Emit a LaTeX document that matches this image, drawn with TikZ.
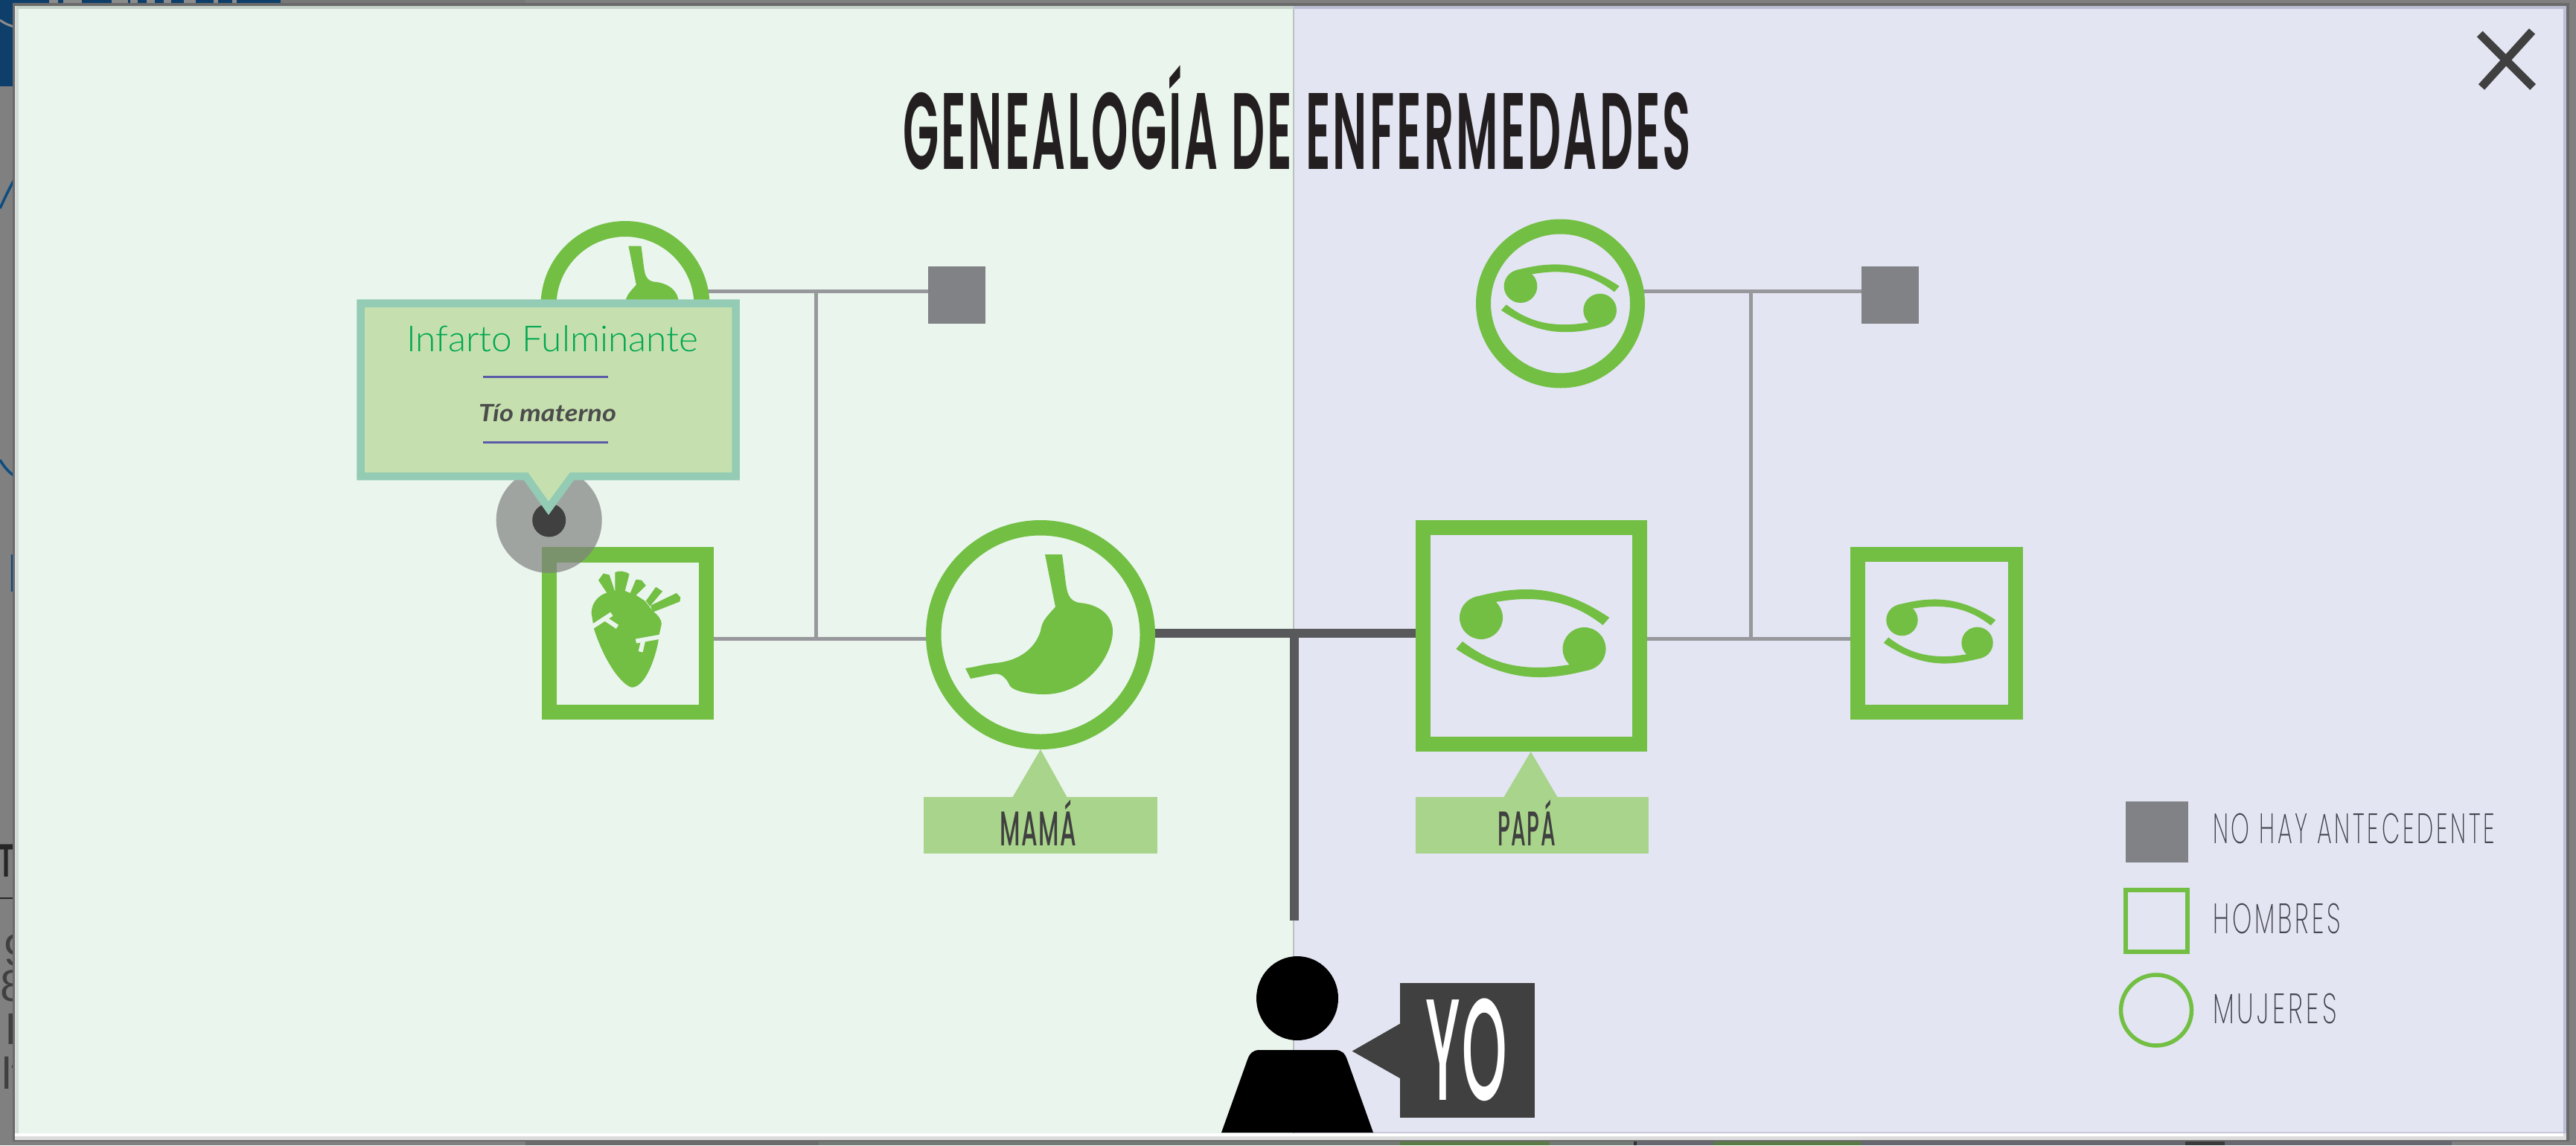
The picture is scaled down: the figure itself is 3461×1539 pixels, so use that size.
\documentclass[tikz,border=0pt]{standalone}
\usepackage{fontspec}
\usepackage{graphicx}
\usetikzlibrary{shapes.geometric}
\setmainfont{Lato}
\newfontfamily\fcond{Poppins SemiBold}[LetterSpace=5]
\newfontfamily\fmid{Poppins Medium}[LetterSpace=5]
\newfontfamily\fyo{Poppins Medium}[LetterSpace=4]
\newfontfamily\fthin{Poppins ExtraLight}[LetterSpace=12]
\newfontfamily\flight{Lato Light}
\newfontfamily\fback{Liberation Sans}
\newlength\pxu \setlength\pxu{0.01cm}
\newcommand{\fitw}[2]{\resizebox{#1\pxu}{\height}{#2}}
\newcommand{\crabhalf}{%
    \fill[leaf] (-69.25,-21) circle[radius=29];
    \fill[leaf] (-78.75,-48.5) .. controls (-50,-56) and (-30,-59) .. (-8.75,-59)
      .. controls (35,-59) and (72,-42) .. (103,-21) -- (94.25,-11)
      .. controls (63,-35) and (33,-46) .. (-8.75,-46)
      .. controls (-24,-46) and (-37,-44) .. (-50.25,-42) -- cycle;
}
\definecolor{backdrop}{HTML}{808080}
\definecolor{shadowc}{HTML}{6A6A6A}
\definecolor{navy}{HTML}{0E3F6A}
\definecolor{inkblue}{HTML}{0E4C80}
\definecolor{panelL}{HTML}{EAF5ED}
\definecolor{panelR}{HTML}{E3E5F2}
\definecolor{leaf}{HTML}{72BF44}
\definecolor{pale}{HTML}{A9D48B}
\definecolor{slate}{HTML}{808285}
\definecolor{thinline}{HTML}{97989C}
\definecolor{thick}{HTML}{58595B}
\definecolor{char}{HTML}{404040}
\definecolor{titleink}{HTML}{231F20}
\definecolor{popfill}{HTML}{C5E0AE}
\definecolor{popedge}{HTML}{93CBB4}
\definecolor{popgreen}{HTML}{00A651}
\definecolor{popline}{HTML}{5A5AA8}
\definecolor{legendink}{HTML}{45454F}
\definecolor{stripgreen}{HTML}{5A7A45}
\definecolor{stripmid}{HTML}{737A73}
\definecolor{stripdark}{HTML}{2F2F33}
\definecolor{strippurple}{HTML}{65666F}
\definecolor{stripblock}{HTML}{3A3A3A}
\definecolor{frameg}{HTML}{DCDCDC}
\definecolor{edgeL}{HTML}{CFDCD5}
\definecolor{topL}{HTML}{C5D3CA}
\definecolor{topR}{HTML}{BBBED2}
\definecolor{baseR}{HTML}{C8C8D8}
\definecolor{divider}{HTML}{B8C2C0}
\pgfdeclarelayer{bg}\pgfdeclarelayer{conn}\pgfsetlayers{bg,conn,main}
\tikzset{
  x=0.01cm,y=-0.01cm,
  txt/.style={inner sep=0pt,outer sep=0pt,anchor=base west},
  person box/.style={draw=leaf,line width=20\pxu,rectangle,inner sep=0pt,outer sep=0pt},
  person disc/.style={draw=leaf,circle,inner sep=0pt,outer sep=0pt},
  none box/.style={fill=slate,rectangle,inner sep=0pt,outer sep=0pt,minimum width=77\pxu,minimum height=77\pxu},
  tag box/.style={fill=pale,rectangle,inner sep=0pt,outer sep=0pt,minimum height=76\pxu},
  thin link/.style={draw=thinline,line width=5\pxu},
  thick link/.style={draw=thick,line width=11.5\pxu},
  stomach/.pic={
    \fill[leaf] (6,-108) -- (29,-108) .. controls (33,-80) and (34,-60) .. (38,-53)
      .. controls (41,-47) and (46,-44) .. (52,-43)
      .. controls (80,-41) and (97,-25) .. (97,-5)
      .. controls (97,30) and (60,80) .. (5,80)
      .. controls (-15,80) and (-35,76) .. (-41,69)
      .. controls (-45,60) and (-52,50) .. (-64,53)
      -- (-94,59) -- (-101,45)
      .. controls (-85,43) and (-80,40) .. (-60,38)
      .. controls (-30,35) and (-8,20) .. (0,-5)
      .. controls (2,-18) and (6,-22) .. (20,-37.5) -- cycle;
  },
  crab/.pic={
    \crabhalf
    \begin{scope}[rotate=180]\crabhalf\end{scope}
  },
}
\begin{document}
\begin{tikzpicture}
\useasboundingbox (0,0) rectangle (3461,1539);

\begin{pgfonlayer}{bg}
  % page behind the dialog
  \fill[backdrop] (0,0) rectangle (3461,1539);
  \fill[black!53] (377,0) rectangle (706,8);
  \fill[navy] (0,0) rectangle (377,8);
  \fill[navy] (0,0) rectangle (20,116);
  \foreach \a/\b in {66/78,85/110,150/172,175/185,197/208,220/230,247/263,287/293,312/318}
    \fill[black!45] (\a,0) rectangle (\b,8);
  \draw[black!45,line width=3\pxu] (0,27) .. controls (7,32) and (14,35) .. (20,36);
  \draw[inkblue,line width=3.5\pxu] (0,280) .. controls (7,265) and (14,250) .. (20,240);
  \draw[inkblue,line width=3.5\pxu] (0,618) .. controls (7,630) and (14,636) .. (20,640);
  \fill[stripmid] (1100,1532) rectangle (2197,1539);
  \fill[black!58] (706,1532) rectangle (1100,1539);
  \fill[stripgreen] (1881,1532) rectangle (2082,1539);
  \fill[stripdark] (2195,1532) rectangle (2199,1539);
  \fill[strippurple] (2199,1532) rectangle (3294,1539);
  \fill[stripgreen] (2302,1532) rectangle (2501,1539);
  \fill[stripblock] (2936,1532) rectangle (2989,1539);
  \begin{scope}
    \clip (0,0) rectangle (20,1539);
    \node[txt,text=inkblue] at (10.7,795) {\fontsize{20.6pt}{24pt}\fback\bfseries L};
    \node[txt,text=black!85] at (-2,1178) {\resizebox{22\pxu}{\height}{\fontsize{18pt}{20pt}\fback\bfseries T}};
    \fill[black!85] (0,1206) rectangle (20,1208);
    \node[txt,text=black!75] at (5,1297) {\fontsize{17pt}{20pt}\fback 9};
    \node[txt,text=black!75] at (1,1345) {\fontsize{17pt}{20pt}\fback 8};
    \node[txt,text=black!75] at (6,1403) {\fontsize{17pt}{20pt}\fback I};
    \node[txt,text=black!75] at (2,1463) {\fontsize{17pt}{20pt}\fback lt};
  \end{scope}
  % dialog frame
  \fill[shadowc] (17,4) rectangle (3452,1534);
  \fill[frameg] (20,8) rectangle (3448,1532);
  \fill[white] (20,1523) rectangle (3444,1527);
  \fill[edgeL] (22,8) rectangle (25,1523);
  \fill[topL] (22,8) rectangle (1738,12);
  \fill[topR] (1738,8) rectangle (3448,12);
  \fill[topR] (3444,8) rectangle (3448,1523);
  \fill[panelL] (25,12) rectangle (1738,1523);
  \fill[panelR] (1738,12) rectangle (3444,1523);
  \draw[baseR,line width=2\pxu] (1845,1522) -- (3444,1522);
  \draw[divider,line width=2\pxu] (1738,12) -- (1738,1523);
\end{pgfonlayer}

% title
\node[txt,text=titleink] (title) at (1213,227.7)
  {\fitw{1059}{\fontsize{41.5pt}{44pt}\fcond GENEALOGÍA DE ENFERMEDADES}};

% close mark
\draw[char,line width=11\pxu] (3331.7,45.7) -- (3403,117);
\draw[char,line width=11\pxu] (3402,42) -- (3334,117);

% family members
\node[person disc,fill=panelL,line width=21\pxu,minimum size=206\pxu] (gmL) at (840,410.5) {};
\node[none box] (noL) at (1285.5,396) {};
\node[person box,fill=panelL,line width=20.5\pxu,minimum width=211\pxu,minimum height=211.5\pxu] (uncleL) at (843.7,851) {};
\node[person disc,fill=panelL,line width=20.5\pxu,minimum size=287.5\pxu] (mama) at (1398,853) {};
\node[person box,fill=panelR,minimum width=291\pxu,minimum height=291\pxu] (papa) at (2057.5,854.5) {};
\node[person disc,fill=panelR,line width=20\pxu,minimum size=207\pxu] (gmR) at (2096.5,408) {};
\node[none box] (noR) at (2539,396) {};
\node[person box,fill=panelR,minimum width=212\pxu,minimum height=212\pxu] (uncleR) at (2601.5,851) {};

% connectors
\coordinate (jTL) at (1096,391.6);
\coordinate (jBL) at (1096,858.6);
\coordinate (jTR) at (2352.4,391.6);
\coordinate (jBR) at (2352.4,858.6);
\coordinate (jC) at (1739,851);
\coordinate (stemEnd) at (1739,1237);
\begin{pgfonlayer}{conn}
  \draw[thin link] (gmL.center |- jTL) -- (noL.center |- jTL);
  \draw[thin link] (uncleL.center |- jBL) -- (mama.center |- jBL);
  \draw[thin link] (jTL) -- (jBL);
  \draw[thin link] (gmR.center |- jTR) -- (noR.center |- jTR);
  \draw[thin link] (papa.center |- jBR) -- (uncleR.center |- jBR);
  \draw[thin link] (jTR) -- (jBR);
  \draw[thick link] (mama.center |- jC) -- (papa.center |- jC);
  \draw[thick link] (jC) -- (stemEnd);
\end{pgfonlayer}

% icons
\pic[scale=.74] at (840,410.5) {stomach};
\pic at (1398,853) {stomach};
\pic at (2059.25,851) {crab};
\pic[scale=.77] at (2096.3,400.8) {crab};
\pic[scale=.73] at (2606,848.5) {crab};

% heart
\begin{scope}[shift={(400,250)},xscale=0.4464,yscale=0.4785]
  \fill[leaf] (884,1200) .. controls (884,1170) and (905,1150) .. (930,1142)
    -- (955,1137) -- (985,1137) -- (1020,1150) -- (1045,1165) -- (1070,1195)
    .. controls (1085,1205) and (1095,1218) .. (1095,1230)
    -- (1088,1260) -- (1085,1280)
    .. controls (1075,1330) and (1045,1408) .. (1005,1408)
    .. controls (975,1400) and (925,1340) .. (892,1245) -- cycle;
  \fill[leaf] (905,1107) -- (920,1088) -- (938,1092) -- (955,1140) -- (930,1142) -- cycle;
  \fill[leaf] (955,1085) .. controls (965,1080) and (985,1080) .. (998,1090) -- (985,1137) -- (955,1137) -- cycle;
  \fill[leaf] (1018,1105) -- (1035,1107) -- (1048,1122) -- (1015,1152) -- (1000,1145) -- cycle;
  \fill[leaf] (1078,1126) -- (1098,1138) -- (1060,1180) -- (1048,1165) -- cycle;
  \fill[leaf] (1062,1178) -- (1140,1143) -- (1152,1155) -- (1150,1167) -- (1068,1197) -- cycle;
  \draw[panelL,line width=6\pxu] (886,1238) -- (945,1202);
  \draw[panelL,line width=6\pxu] (925,1215) -- (962,1238);
  \draw[panelL,line width=6\pxu] (1018,1278) -- (1090,1266);
  \draw[panelL,line width=6\pxu] (1040,1275) -- (1032,1308);
\end{scope}

% relation tags
\fill[pale] (1398,1007) -- (1434,1072) -- (1360,1072) -- cycle;
\node[tag box,minimum width=314\pxu] (tagM) at (1398,1109) {};
\node[txt,text=char] (tagMt) at (1343,1136) {\fitw{103}{\fontsize{18.6pt}{20pt}\fmid MAMÁ}};
\fill[pale] (2056.7,1010) -- (2093,1072) -- (2020,1072) -- cycle;
\node[tag box,minimum width=313\pxu] (tagP) at (2058,1109) {};
\node[txt,text=char] (tagPt) at (2012.5,1136) {\fitw{77.5}{\fontsize{18.6pt}{20pt}\fmid PAPÁ}};

% me
\node[fill=black,ellipse,inner sep=0pt,minimum width=110\pxu,minimum height=113\pxu] (head) at (1743,1341.5) {};
\fill[black] (1641,1522) -- (1676,1424) .. controls (1679,1415) and (1684,1411) .. (1692,1411)
  -- (1794,1411) .. controls (1802,1411) and (1807,1415) .. (1810,1424) -- (1845,1522) -- cycle;
\fill[char] (1816.7,1412.5) -- (1881,1375.6) -- (1881,1449) -- cycle;
\node[fill=char,rectangle,inner sep=0pt,minimum width=180.6\pxu,minimum height=181\pxu] (yo) at (1971.3,1411) {};
\node[txt,text=white] (yot) at (1915,1478.8) {\fitw{110}{\fontsize{55.2pt}{60pt}\fyo YO}};

% legend
\node[fill=slate,rectangle,inner sep=0pt,minimum width=84\pxu,minimum height=82\pxu] (lg1) at (2898,1118) {};
\node[draw=leaf,rectangle,inner sep=0pt,line width=5.7\pxu,minimum width=83\pxu,minimum height=83\pxu] (lg2) at (2897.3,1237.3) {};
\node[draw=leaf,circle,inner sep=0pt,line width=5.5\pxu,minimum size=95\pxu] (lg3) at (2897,1357.5) {};
\node[txt,text=legendink] (lt1) at (2973,1133) {\fitw{379}{\fontsize{16.2pt}{18pt}\fthin NO HAY ANTECEDENTE}};
\node[txt,text=legendink] (lt2) at (2973,1254) {\fitw{172}{\fontsize{16.2pt}{18pt}\fthin HOMBRES}};
\node[txt,text=legendink] (lt3) at (2973,1375.7) {\fitw{166.4}{\fontsize{16.2pt}{18pt}\fthin MUJERES}};

% hover marker and popup
\fill[backdrop,opacity=.69] (737.7,699) circle[radius=71];
\fill[char] (737.7,699) circle[radius=22.5];
\draw[draw=popedge,fill=popfill,line width=10.5\pxu,line join=miter]
  (484.5,407.5) -- (988.5,407.5) -- (988.5,640) -- (768.5,640) -- (737,683) -- (706.5,640) -- (484.5,640) -- cycle;
\node[txt,text=popgreen] (pop1) at (546,472) {\fitw{392}{\fontsize{13.7pt}{16pt}\flight Infarto Fulminante}};
\draw[popline,line width=2.2\pxu] (649,506.5) -- (816.5,506.5);
\node[txt,text=black!70] (pop2) at (643,566) {\fitw{185}{\fontsize{9.1pt}{11pt}\bfseries\itshape Tío materno}};
\draw[popline,line width=2.2\pxu] (649,594.5) -- (816.5,594.5);
\end{tikzpicture}
\end{document}
